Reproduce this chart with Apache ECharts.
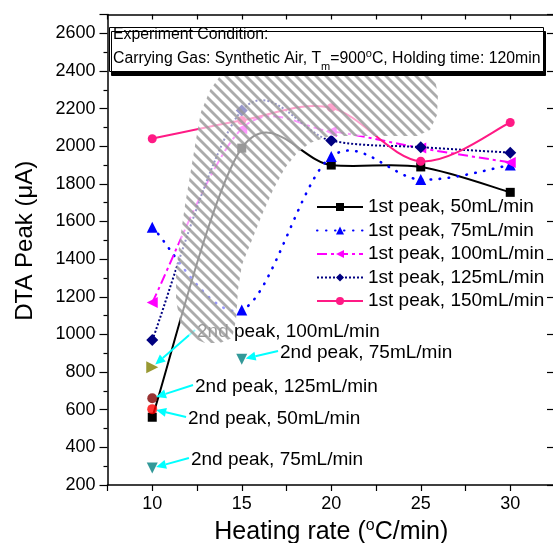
<!DOCTYPE html>
<html>
<head>
<meta charset="utf-8">
<script src="https://cdn.jsdelivr.net/npm/echarts@6/dist/echarts.min.js"></script>
<style>
  html, body { margin: 0; padding: 0; background: #fff; overflow: hidden; }
  #chart { width: 553px; height: 543px; }
</style>
</head>
<body>
<div id="chart"></div>
<script>
// Heating rates (°C/min)
const heatingRates = [10, 15, 20, 25, 30];

// First DTA peak (µA) per gas flow rate
const peak1Flow50 = [560, 1990, 1900, 1890, 1755];
const peak1Flow75 = [1570, 1130, 1945, 1823, 1900];
const peak1Flow100 = [1170, 2093, 2078, 1990, 1914];
const peak1Flow125 = [970, 2190, 2030, 1995, 1966];
const peak1Flow150 = [2040, 2137, 2205, 1920, 2126];

// Second DTA peak (µA): [heating rate, value]
const peak2Flow50 = [[10, 603]];
const peak2Flow75 = [[10, 290], [15, 868]];
const peak2Flow100 = [[10, 826]];
const peak2Flow125 = [[10, 661]];

// Callouts for the second peaks: label, target point, label anchor (data units)
const noteLabels = ['2nd peak, 100mL/min', '2nd peak, 75mL/min', '2nd peak, 125mL/min', '2nd peak, 50mL/min', '2nd peak, 75mL/min'];
const noteTargets = [[10, 826], [15, 868], [10, 661], [10, 603], [10, 290]];
const noteAnchors = [[12.5, 1013], [17.14, 901], [12.39, 721], [12.0, 551], [12.16, 333]];

// Outline of the hatched highlight band (data units)
const bandOutline = [
  [13.90, 2389], [25.24, 2389], [25.80, 2352], [25.96, 2272], [25.91, 2166], [25.52, 2086],
  [24.79, 2054], [19.93, 2054], [18.81, 2017], [18.09, 1964], [17.42, 1884], [16.75, 1767],
  [16.13, 1635], [15.57, 1502], [15.01, 1369], [14.79, 1236], [14.68, 1077], [14.46, 981],
  [13.78, 954], [12.95, 954], [12.11, 986], [11.55, 1066], [11.33, 1183], [11.33, 1342],
  [11.55, 1502], [11.83, 1688], [12.16, 1874], [12.44, 2033], [12.72, 2182], [13.23, 2299]
];

// Axis tick labels
const xTickLabels = ['10', '15', '20', '25', '30'];
const yTickLabels = ['200', '400', '600', '800', '1000', '1200', '1400', '1600', '1800', '2000', '2200', '2400', '2600'];

const FONT = '"Liberation Sans", Arial, sans-serif';

function zip(xs, ys) { return xs.map((x, i) => [x, ys[i]]); }

// Cardinal (Catmull-Rom) spline through pixel points, as SVG path data
function splinePath(pts) {
  let d = 'M' + pts[0][0] + ',' + pts[0][1];
  for (let i = 0; i < pts.length - 1; i++) {
    const p0 = pts[i - 1] || pts[i], p1 = pts[i], p2 = pts[i + 1], p3 = pts[i + 2] || pts[i + 1];
    const c1 = [p1[0] + (p2[0] - p0[0]) / 6, p1[1] + (p2[1] - p0[1]) / 6];
    const c2 = [p2[0] - (p3[0] - p1[0]) / 6, p2[1] - (p3[1] - p1[1]) / 6];
    d += ' C' + c1[0] + ',' + c1[1] + ' ' + c2[0] + ',' + c2[1] + ' ' + p2[0] + ',' + p2[1];
  }
  return d;
}

function makeHatch() {
  const c = document.createElement('canvas');
  c.width = 10; c.height = 10;
  const g = c.getContext('2d');
  g.fillStyle = 'rgba(255,255,255,0.6)';
  g.fillRect(0, 0, 10, 10);
  g.strokeStyle = 'rgba(150,150,150,0.8)';
  g.lineWidth = 2.8;
  for (const off of [-10, 0, 10]) {
    g.beginPath(); g.moveTo(off - 2, -2); g.lineTo(off + 12, 12); g.stroke();
  }
  return c;
}
const hatchPattern = { image: makeHatch(), repeat: 'repeat' };

const chart = echarts.init(document.getElementById('chart'), null, { renderer: 'canvas' });

const axisLineStyle = { color: '#000', width: 1.5 };
const txt = (size, extra) => Object.assign({ fontSize: size, fontFamily: FONT, fontWeight: 'normal', color: '#000' }, extra || {});

// First-peak curves: name, values, marker, colour, dash pattern
const curves = [
  { name: '1st peak, 50mL/min', values: peak1Flow50, symbol: 'rect', rotate: 0, size: 9, color: '#000000', dash: null, width: 2, cap: 'butt' },
  { name: '1st peak, 75mL/min', values: peak1Flow75, symbol: 'triangle', rotate: 0, size: 11, color: '#0000ff', dash: [0.5, 8.5], width: 2.6, cap: 'round' },
  { name: '1st peak, 100mL/min', values: peak1Flow100, symbol: 'triangle', rotate: 90, size: 11, color: '#ff00ff', dash: [10, 4, 3, 4], width: 2, cap: 'butt' },
  { name: '1st peak, 125mL/min', values: peak1Flow125, symbol: 'diamond', rotate: 0, size: 12, color: '#000080', dash: [2, 2], width: 2, cap: 'butt' },
  { name: '1st peak, 150mL/min', values: peak1Flow150, symbol: 'circle', rotate: 0, size: 9, color: '#ff1a85', dash: null, width: 2, cap: 'butt' }
];

const curveSeries = [];
curves.forEach(c => {
  // spline line through the measured points
  curveSeries.push({
    type: 'custom', silent: true, z: 1, clip: false,
    data: zip(heatingRates, c.values),
    renderItem: (params, api) => {
      if (params.dataIndex !== 0) return null;
      const pts = heatingRates.map((x, i) => api.coord([x, c.values[i]]));
      return {
        type: 'path',
        shape: { pathData: splinePath(pts) },
        style: { fill: null, stroke: c.color, lineWidth: c.width, lineDash: c.dash, lineCap: c.cap }
      };
    }
  });
  // markers (and legend entry)
  curveSeries.push({
    name: c.name, type: 'line', z: 2, data: zip(heatingRates, c.values),
    symbol: c.symbol, symbolRotate: c.rotate, symbolSize: c.size,
    lineStyle: { color: c.color, width: c.width, type: c.dash || 'solid', cap: c.cap, opacity: 0 },
    itemStyle: { color: c.color }
  });
});

const option = {
  animation: false,
  backgroundColor: '#fff',
  textStyle: { fontFamily: FONT },
  title: {
    text: '{h|Experiment Condition:}\n{a|Carrying Gas: Synthetic Air, T}{sub|m}{a|=900}{sup|o}{a|C, Holding time: 120min}',
    left: 109, top: 28,
    padding: [0, 3, 0, 4],
    backgroundColor: '#fff',
    borderColor: '#000', borderWidth: 1,
    shadowColor: '#000', shadowOffsetX: 2, shadowOffsetY: 4, shadowBlur: 0,
    z: 10,
    textStyle: {
      fontWeight: 'normal',
      rich: {
        h: txt(15.8, { lineHeight: 14 }),
        a: txt(15.8, { lineHeight: 33 }),
        sub: txt(11, { lineHeight: 11, verticalAlign: 'top', padding: [19, 0, 0, 0] }),
        sup: txt(11, { lineHeight: 11, verticalAlign: 'top', padding: [6, 0, 0, 0] })
      }
    }
  },
  legend: {
    orient: 'vertical',
    left: 316, top: 197,
    padding: 0,
    itemWidth: 46, itemHeight: 10, itemGap: 3.5,
    textStyle: txt(19, { lineHeight: 20 }),
    data: curves.map(c => ({ name: c.name, lineStyle: { opacity: 1 } }))
  },
  grid: { left: 107.5, width: 447.5, top: 14.5, height: 470.5, outerBoundsMode: 'none', containLabel: false },
  xAxis: [
    {
      type: 'value', position: 'bottom', min: 7.5, max: 32.5, interval: 2.5,
      axisLine: { lineStyle: axisLineStyle },
      axisTick: { length: 6, lineStyle: { color: '#000', width: 1.2 } },
      axisLabel: {
        fontSize: 18, fontFamily: FONT, color: '#000', margin: 10,
        formatter: v => { const s = String(v); return xTickLabels.includes(s) ? s : ''; }
      },
      splitLine: { show: false },
      name: '{t|Heating rate (}{s|o}{t|C/min)}',
      nameLocation: 'middle', nameGap: 30,
      nameTextStyle: {
        rich: {
          t: txt(25, { lineHeight: 28 }),
          s: txt(16, { lineHeight: 16, verticalAlign: 'top' })
        }
      }
    },
    {
      type: 'value', position: 'top', min: 7.5, max: 32.5, interval: 2.5,
      axisLine: { lineStyle: axisLineStyle },
      axisTick: { inside: true, length: 5, lineStyle: { color: '#000', width: 1.2 } },
      axisLabel: { show: false },
      splitLine: { show: false }
    }
  ],
  yAxis: [
    {
      type: 'value', position: 'left', min: 200, max: 2700, interval: 200,
      axisLine: { show: true, lineStyle: axisLineStyle },
      axisTick: { show: true, length: 8, lineStyle: { color: '#000', width: 1.2 } },
      minorTick: { show: true, splitNumber: 2, length: 4, lineStyle: { color: '#000', width: 1.2 } },
      axisLabel: {
        fontSize: 18, fontFamily: FONT, color: '#000', margin: 12,
        formatter: v => { const s = String(v); return yTickLabels.includes(s) ? s : ''; }
      },
      splitLine: { show: false },
      name: 'DTA Peak (\u03bcA)',
      nameLocation: 'middle', nameGap: 70,
      nameTextStyle: txt(24, { padding: [0, 0, 0, 18] })
    },
    {
      type: 'value', position: 'right', min: 200, max: 2700, interval: 200,
      axisLine: { show: true, lineStyle: axisLineStyle },
      axisTick: { show: true, inside: true, length: 8, lineStyle: { color: '#000', width: 1.2 } },
      axisLabel: { show: false },
      splitLine: { show: false }
    }
  ],
  series: curveSeries.concat([
    {
      name: '2nd peak, 50mL/min', type: 'scatter', data: peak2Flow50,
      symbol: 'circle', symbolSize: 10, itemStyle: { color: '#ff0000' }
    },
    {
      name: '2nd peak, 75mL/min', type: 'scatter', data: peak2Flow75,
      symbol: 'triangle', symbolRotate: 180, symbolSize: 11, itemStyle: { color: '#008080' }
    },
    {
      name: '2nd peak, 100mL/min', type: 'scatter', data: peak2Flow100,
      symbol: 'triangle', symbolRotate: -90, symbolSize: 12, itemStyle: { color: '#808000' }
    },
    {
      name: '2nd peak, 125mL/min', type: 'scatter', data: peak2Flow125,
      symbol: 'circle', symbolSize: 10, itemStyle: { color: '#800000' }
    },
    {
      // cyan arrows with their labels
      type: 'custom', silent: true, z: 3, clip: false,
      data: noteTargets.map((t, i) => [t[0], t[1], noteAnchors[i][0], noteAnchors[i][1], i]),
      renderItem: (params, api) => {
        const tip = api.coord([api.value(0), api.value(1)]);
        const anchor = api.coord([api.value(2), api.value(3)]);
        const label = noteLabels[api.value(4)];
        const tail = [anchor[0] - 2, anchor[1] - 2];
        const dx = tip[0] - tail[0], dy = tip[1] - tail[1];
        const len = Math.hypot(dx, dy);
        const ux = dx / len, uy = dy / len;
        const end = [tip[0] - ux * 4, tip[1] - uy * 4];
        const base = [end[0] - ux * 10, end[1] - uy * 10];
        const nx = -uy, ny = ux;
        return {
          type: 'group',
          children: [
            { type: 'line', shape: { x1: tail[0], y1: tail[1], x2: base[0], y2: base[1] }, style: { stroke: '#00ffff', lineWidth: 2 } },
            { type: 'polygon', shape: { points: [end, [base[0] + nx * 4.5, base[1] + ny * 4.5], [base[0] - nx * 4.5, base[1] - ny * 4.5]] }, style: { fill: '#00ffff' } },
            { type: 'text', x: anchor[0], y: anchor[1], style: { text: label, fontSize: 19, fontFamily: FONT, fill: '#000', align: 'left', verticalAlign: 'middle' } }
          ]
        };
      }
    },
    {
      // hatched highlight band drawn over the curves
      type: 'custom', silent: true, z: 5, clip: false,
      data: bandOutline,
      renderItem: (params, api) => {
        if (params.dataIndex !== 0) return null;
        const pts = bandOutline.map(p => api.coord(p));
        return { type: 'polygon', shape: { points: pts }, style: { fill: hatchPattern, stroke: null } };
      }
    }
  ])
};

chart.setOption(option);
</script>
</body>
</html>
